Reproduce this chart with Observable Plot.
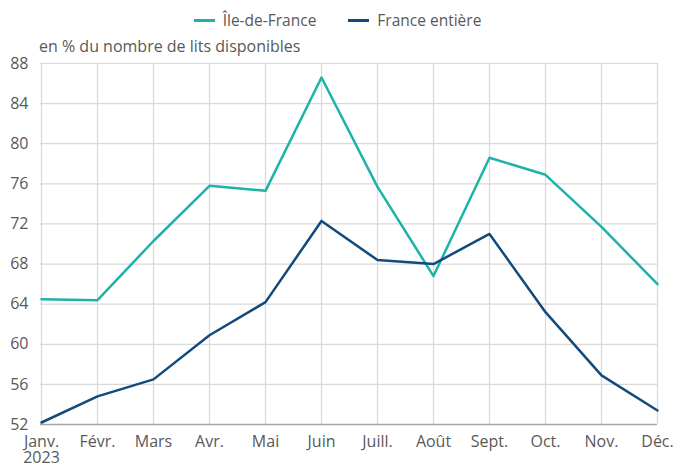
<!DOCTYPE html>
<html><head><meta charset="utf-8">
<script src="https://cdn.jsdelivr.net/npm/d3@7"></script>
<script src="https://cdn.jsdelivr.net/npm/@observablehq/plot@0.6"></script>
<style>
body{margin:0;background:#fff;font-family:"Open Sans",sans-serif;}
#wrap{position:relative;width:675px;height:466px;}
#legend{position:absolute;top:9px;left:0;width:675px;display:flex;justify-content:center;gap:32px;font-size:15.5px;color:#595959;padding-left:0;}
.item{display:flex;align-items:center;gap:8px;}
.sw{width:21px;height:3px;display:inline-block;}
#sub{position:absolute;left:39px;top:35px;font-size:16px;color:#595959;}
#chart{position:absolute;top:0;left:0;}
</style></head>
<body><div id="wrap"><div id="chart"></div><div id="legend"></div><div id="sub">en % du nombre de lits disponibles</div></div>
<script>
const months = ["Janv.","Févr.","Mars","Avr.","Mai","Juin","Juill.","Août","Sept.","Oct.","Nov.","Déc."];
const monthLabels = ["Janv.\n2023","Févr.","Mars","Avr.","Mai","Juin","Juill.","Août","Sept.","Oct.","Nov.","Déc."];
const idf = [64.5, 64.4, 70.3, 75.8, 75.3, 86.6, 75.7, 66.8, 78.6, 76.9, 71.7, 66.0];
const france = [52.2, 54.8, 56.5, 60.9, 64.2, 72.3, 68.4, 68.0, 71.0, 63.2, 56.9, 53.4];
const seriesNames = ["Île-de-France", "France entière"];
const colors = ["#1db3a7", "#124a7c"];
const yTicks = [52,56,60,64,68,72,76,80,84,88];

const data = [];
months.forEach((m,i)=>{ data.push({m, v: idf[i], s: seriesNames[0]}); data.push({m, v: france[i], s: seriesNames[1]}); });

const plot = Plot.plot({
  width: 675, height: 466,
  marginTop: 63, marginBottom: 42, marginLeft: 40, marginRight: 18,
  style: {fontFamily: "Open Sans, sans-serif", fontSize: "16px", color: "#595959", background: "transparent"},
  x: {type: "point", domain: months, padding: 0, label: null},
  y: {domain: [52, 88], label: null},
  color: {domain: seriesNames, range: colors},
  marks: [
    Plot.gridY(yTicks, {stroke: "#d9d9d9", strokeOpacity: 1, strokeWidth: 1.2}),
    Plot.gridX(months, {stroke: "#d9d9d9", strokeOpacity: 1, strokeWidth: 1.2}),
    Plot.axisY(yTicks, {tickSize: 0, tickPadding: 12, fill: "#595959", fontSize: 16}),
    Plot.axisX(months, {tickSize: 0, tickPadding: 11, fill: "#595959", fontSize: 16, tickFormat: (d)=>monthLabels[months.indexOf(d)], lineHeight: 1.0}),
    Plot.ruleY([52], {stroke: "#a6a6a6", strokeWidth: 1.5}),
    Plot.line(data, {x: "m", y: "v", z: "s", stroke: "s", strokeWidth: 2.5})
  ]
});
document.getElementById("chart").appendChild(plot);

const lg = document.getElementById("legend");
seriesNames.forEach((n,i)=>{
  const it = document.createElement("div"); it.className="item";
  const sw = document.createElement("span"); sw.className="sw"; sw.style.background=colors[i];
  const t = document.createElement("span"); t.textContent=n;
  it.appendChild(sw); it.appendChild(t); lg.appendChild(it);
});
</script></body></html>
